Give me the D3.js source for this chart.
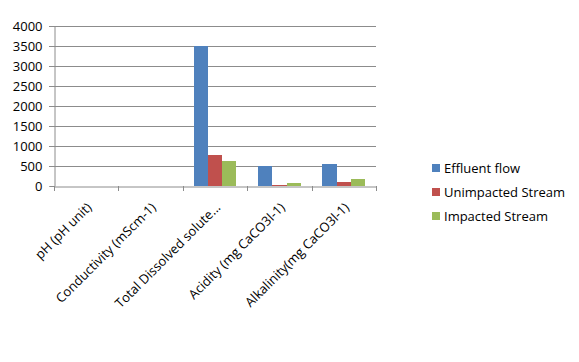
<!DOCTYPE html>
<html>
<head>
<meta charset="utf-8">
<script src="https://cdn.jsdelivr.net/npm/d3@7"></script>
<style>
  body { margin: 0; background: #fff; }
  svg text { font-family: "Open Sans", sans-serif; fill: #000; }
</style>
</head>
<body>
<svg id="chart" width="579" height="362"></svg>
<script>
const categories = ["pH (pH unit)", "Conductivity (mScm-1)", "Total Dissolved solute...", "Acidity (mg CaCO3l-1)", "Alkalinity(mg CaCO3l-1)"];
const seriesNames = ["Effluent flow", "Unimpacted Stream", "Impacted Stream"];
const effluentFlow = [3, 2, 3500, 490, 540];
const unimpactedStream = [7, 0.5, 780, 25, 95];
const impactedStream = [6, 1, 630, 75, 180];
const yTicks = [0, 500, 1000, 1500, 2000, 2500, 3000, 3500, 4000];
const colors = ["#4f81bd", "#c0504d", "#9bbb59"];

const series = [effluentFlow, unimpactedStream, impactedStream];

const svg = d3.select("#chart");
const plotLeft = 54, plotRight = 376, plotTop = 26, plotBottom = 186;

const x = d3.scaleBand().domain(categories).range([plotLeft, plotRight]).paddingInner(0).paddingOuter(0);
const xInner = d3.scaleBand().domain(seriesNames).range([0, x.bandwidth()]).paddingInner(0).paddingOuter(0.75);
const y = d3.scaleLinear().domain([0, 4000]).range([plotBottom, plotTop]);

// gridlines
svg.append("g").selectAll("line")
    .data(yTicks.slice(1))
    .enter()
    .append("line")
    .attr("x1", plotLeft - 5)
    .attr("x2", plotRight)
    .attr("y1", d => y(d) + 0.5)
    .attr("y2", d => y(d) + 0.5)
    .attr("stroke", "#8c8c8c")
    .attr("stroke-width", 1);

// bars
categories.forEach((c, i) => {
    svg.append("g").selectAll("rect")
        .data(series.map((s, k) => ({ name: seriesNames[k], v: s[i], k: k })))
        .enter()
        .append("rect")
        .attr("x", d => x(c) + xInner(d.name))
        .attr("width", xInner.bandwidth())
        .attr("y", d => y(d.v))
        .attr("height", d => plotBottom - y(d.v))
        .attr("fill", d => colors[d.k])
        .attr("shape-rendering", "crispEdges");
});

// y axis
const yAxis = svg.append("g")
    .attr("transform", `translate(${plotLeft + 0.5},0)`)
    .call(d3.axisLeft(y).tickValues(yTicks).tickSize(5).tickPadding(7).tickFormat(d3.format("d")));
yAxis.select(".domain").attr("stroke", "#8c8c8c");
yAxis.selectAll(".tick line").attr("stroke", "#8c8c8c");
yAxis.selectAll("text").style("font-size", "13px").attr("dy", "0.35em");

// x axis
const xAxis = svg.append("g")
    .attr("transform", `translate(0,${plotBottom + 0.5})`)
    .call(d3.axisBottom(x).tickSize(0).tickFormat(""));
xAxis.select(".domain").attr("stroke", "#8c8c8c");
xAxis.selectAll(".tick").remove();
svg.append("g").selectAll("line")
    .data(d3.range(categories.length + 1))
    .enter()
    .append("line")
    .attr("x1", i => Math.round(plotLeft + i * x.bandwidth()) + 0.5)
    .attr("x2", i => Math.round(plotLeft + i * x.bandwidth()) + 0.5)
    .attr("y1", plotBottom)
    .attr("y2", plotBottom + 5)
    .attr("stroke", "#8c8c8c");

// category labels
svg.append("g").selectAll("text")
    .data(categories)
    .enter()
    .append("text")
    .attr("transform", d => `translate(${x(d) + x.bandwidth() / 2 + 3},${plotBottom + 19}) rotate(-45)`)
    .attr("text-anchor", "end")
    .attr("dy", "0.35em")
    .style("font-size", "13px")
    .text(d => d);

// legend
const legend = svg.append("g");
seriesNames.forEach((n, k) => {
    const ly = 168 + k * 24;
    legend.append("rect")
        .attr("x", 432).attr("y", ly - 4)
        .attr("width", 8).attr("height", 8)
        .attr("fill", colors[k]);
    legend.append("text")
        .attr("x", 444).attr("y", ly)
        .attr("dy", "0.35em")
        .style("font-size", "13px")
        .text(n);
});
</script>
</body>
</html>
